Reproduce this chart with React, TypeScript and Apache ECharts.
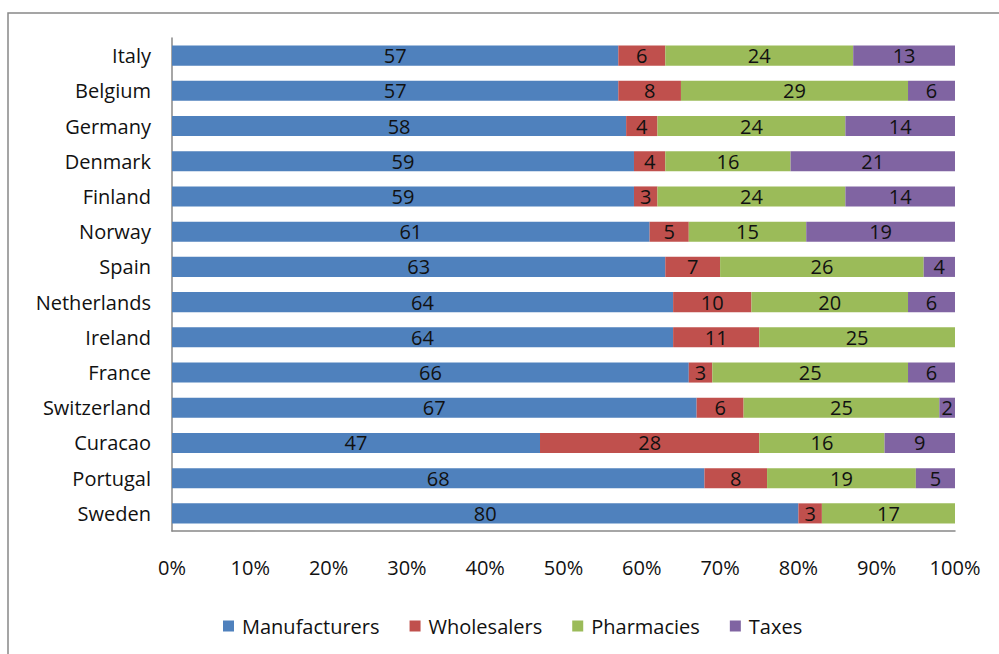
import React, { useEffect, useRef } from "react";
import * as echarts from "echarts";

const categories = ["Italy", "Belgium", "Germany", "Denmark", "Finland", "Norway", "Spain", "Netherlands", "Ireland", "France", "Switzerland", "Curacao", "Portugal", "Sweden"];
const manufacturers = [57, 57, 58, 59, 59, 61, 63, 64, 64, 66, 67, 47, 68, 80];
const wholesalers = [6, 8, 4, 4, 3, 5, 7, 10, 11, 3, 6, 28, 8, 3];
const pharmacies = [24, 29, 24, 16, 24, 15, 26, 20, 25, 25, 25, 16, 19, 17];
const taxes = [13, 6, 14, 21, 14, 19, 4, 6, 0, 6, 2, 9, 5, 0];
const seriesNames = ["Manufacturers", "Wholesalers", "Pharmacies", "Taxes"];
const colors = ["#4F81BD", "#C0504D", "#9BBB59", "#8064A2"];

const FONT = "'Open Sans', sans-serif";
const FS = 20;

export default function App() {
  const ref = useRef<HTMLDivElement>(null);
  useEffect(() => {
    if (!ref.current) return;
    const chart = echarts.init(ref.current, null, { renderer: "svg" });
    const values = [manufacturers, wholesalers, pharmacies, taxes];
    chart.setOption({
      animation: false,
      color: colors,
      textStyle: { fontFamily: FONT },
      graphic: [
        {
          type: "rect",
          shape: { x: 8, y: 13, width: 1100, height: 800 },
          style: { fill: "none", stroke: "#888", lineWidth: 1.5 },
          silent: true,
        },
      ],
      grid: { left: 172, right: 44, top: 38, bottom: 123, containLabel: false },
      legend: {
        bottom: 13,
        left: 218,
        itemWidth: 11,
        itemHeight: 11,
        itemGap: 30,
        icon: "rect",
        textStyle: { fontSize: FS, color: "#111", fontFamily: FONT, padding: [0, 0, 0, 3] },
        data: seriesNames,
      },
      xAxis: {
        type: "value",
        min: 0,
        max: 100,
        interval: 10,
        axisLine: { show: true, lineStyle: { color: "#888", width: 1.5 } },
        axisTick: { show: false },
        splitLine: { show: false },
        axisLabel: { formatter: "{value}%", fontSize: FS, color: "#111", margin: 26, fontFamily: FONT },
      },
      yAxis: {
        type: "category",
        inverse: true,
        data: categories,
        axisLine: { show: true, lineStyle: { color: "#888", width: 1.5 } },
        axisTick: { show: false },
        axisLabel: { fontSize: FS, color: "#111", margin: 21, fontFamily: FONT },
      },
      series: seriesNames.map((name, i) => ({
        name,
        type: "bar",
        stack: "total",
        barWidth: "57%",
        data: values[i],
        label: {
          show: true,
          position: "inside",
          color: "#111",
          fontSize: FS,
          fontFamily: FONT,
          formatter: (p: any) => (p.value ? String(p.value) : ""),
        },
      })),
    });
    return () => chart.dispose();
  }, []);
  return <div ref={ref} style={{ position: "fixed", left: 0, top: 0, width: 999, height: 654, background: "#fff" }} />;
}
